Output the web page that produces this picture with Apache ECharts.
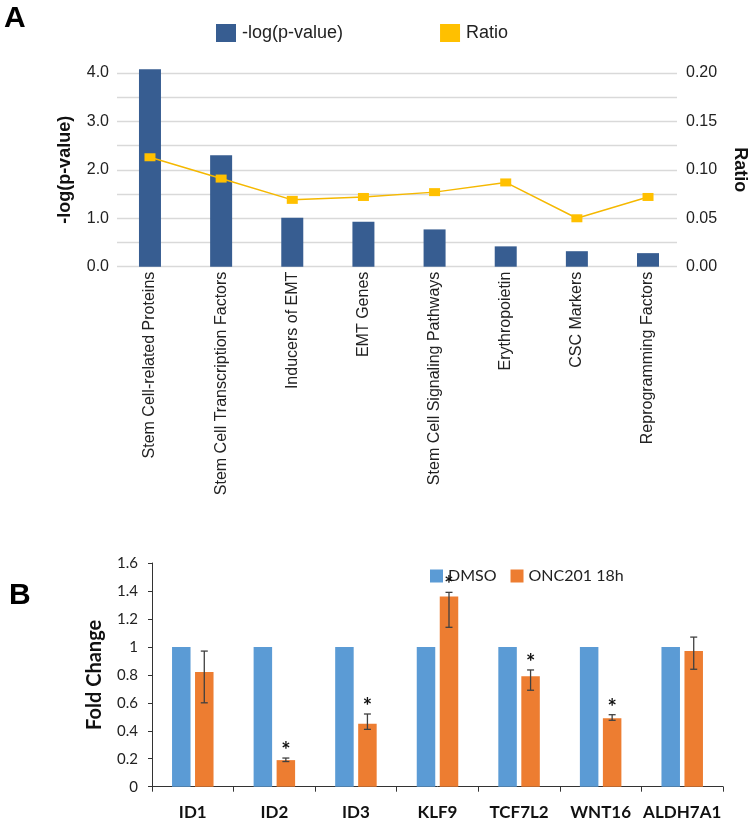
<!DOCTYPE html>
<html>
<head>
<meta charset="utf-8">
<script src="https://cdn.jsdelivr.net/npm/echarts/dist/echarts.min.js"></script>
<style>
  html, body { margin: 0; padding: 0; background: #ffffff; }
  #chart { width: 750px; height: 822px; }
</style>
</head>
<body>
<div id="chart"></div>
<script>
// ---------- Panel A data ----------
const pathwayCategories = [
  'Stem Cell-related Proteins',
  'Stem Cell Transcription Factors',
  'Inducers of EMT',
  'EMT Genes',
  'Stem Cell Signaling Pathways',
  'Erythropoietin',
  'CSC Markers',
  'Reprogramming Factors'
];
const negLogP = [4.08, 2.30, 1.01, 0.93, 0.77, 0.42, 0.32, 0.28];
const ratioValues = [0.113, 0.091, 0.069, 0.072, 0.077, 0.087, 0.050, 0.072];

// ---------- Panel B data ----------
const geneCategories = ['ID1', 'ID2', 'ID3', 'KLF9', 'TCF7L2', 'WNT16', 'ALDH7A1'];
const dmsoValues = [1, 1, 1, 1, 1, 1, 1];
const oncValues = [0.82, 0.19, 0.45, 1.36, 0.79, 0.49, 0.97];
const oncErrLow = [0.60, 0.18, 0.41, 1.14, 0.69, 0.475, 0.84];
const oncErrHigh = [0.97, 0.205, 0.52, 1.39, 0.835, 0.515, 1.07];
const significant = [false, true, true, true, true, true, false];

const chart = echarts.init(document.getElementById('chart'), null, { renderer: 'canvas' });

const fontA = 'Liberation Sans, Arial, sans-serif';
const fontB = 'Lato, Open Sans, sans-serif';
const barWidthB = 18.5;
const barGapPx = 4.5;

const errData = geneCategories.map((g, i) => [i, oncErrLow[i], oncErrHigh[i], significant[i] ? 1 : 0]);

const option = {
  backgroundColor: '#ffffff',
  animation: false,
  graphic: [
    { type: 'text', left: 4, top: 4, style: { text: 'A', font: 'bold 30px ' + fontA, fill: '#000' } },
    { type: 'text', left: 9, top: 581, style: { text: 'B', font: 'bold 30px ' + fontA, fill: '#000' } }
  ],
  legend: [
    {
      data: ['-log(p-value)', 'Ratio'],
      left: 211, top: 19,
      icon: 'rect',
      itemWidth: 20, itemHeight: 18, itemGap: 97,
      textStyle: { fontFamily: fontA, fontSize: 18, color: '#222', padding: [0, 0, 0, 1] }
    },
    {
      data: ['DMSO', 'ONC201 18h'],
      left: 425, top: 563,
      icon: 'rect',
      itemWidth: 13, itemHeight: 13, itemGap: 14,
      textStyle: { fontFamily: fontB, fontSize: 16, color: '#222' }
    }
  ],
  grid: [
    { left: 117, right: 73, top: 73, bottom: 555.3, containLabel: false, outerBoundsMode: 'none' },      // A gridlines + axis labels
    { left: 114.4, right: 66.4, top: 73, bottom: 555.3, containLabel: false, outerBoundsMode: 'none' },  // A marks
    { left: 152, right: 27, top: 563, bottom: 35.3, containLabel: false, outerBoundsMode: 'none' }       // B
  ],
  xAxis: [
    { gridIndex: 0, type: 'category', data: pathwayCategories, show: false },
    {
      gridIndex: 1, type: 'category', data: pathwayCategories,
      axisLine: { show: false }, axisTick: { show: false },
      axisLabel: { rotate: 90, interval: 0, margin: 5, fontFamily: fontA, fontSize: 16, color: '#222' }
    },
    {
      gridIndex: 2, type: 'category', data: geneCategories,
      axisLine: { lineStyle: { color: '#333', width: 1 } },
      axisTick: { show: true, length: 5, lineStyle: { color: '#333' } },
      axisLabel: { interval: 0, margin: 17, fontFamily: fontB, fontWeight: 'bold', fontSize: 17, color: '#111' }
    }
  ],
  yAxis: [
    {
      gridIndex: 0, type: 'value', min: 0, max: 4, interval: 0.5, position: 'left',
      name: '-log(p-value)', nameLocation: 'middle', nameGap: 43, nameRotate: 90,
      nameTextStyle: { fontFamily: fontA, fontWeight: 'bold', fontSize: 18, color: '#111' },
      axisLine: { show: false }, axisTick: { show: false },
      splitLine: { lineStyle: { color: '#d9d9d9', width: 1.3 } },
      axisLabel: {
        margin: 8, fontFamily: fontA, fontSize: 16, color: '#222',
        formatter: v => (Math.abs(v - Math.round(v)) < 1e-9 ? v.toFixed(1) : '')
      }
    },
    {
      gridIndex: 0, type: 'value', min: 0, max: 0.2, interval: 0.025, position: 'right',
      name: 'Ratio', nameLocation: 'middle', nameGap: 54, nameRotate: -90,
      nameTextStyle: { fontFamily: fontA, fontWeight: 'bold', fontSize: 18, color: '#111' },
      axisLine: { show: false }, axisTick: { show: false }, splitLine: { show: false },
      axisLabel: {
        margin: 9, fontFamily: fontA, fontSize: 16, color: '#222',
        formatter: v => (Math.abs(v / 0.05 - Math.round(v / 0.05)) < 1e-6 ? v.toFixed(2) : '')
      }
    },
    { gridIndex: 1, type: 'value', min: 0, max: 4, show: false, splitLine: { show: false } },
    { gridIndex: 1, type: 'value', min: 0, max: 0.2, show: false, splitLine: { show: false } },
    {
      gridIndex: 2, type: 'value', min: 0, max: 1.6, interval: 0.2,
      name: 'Fold Change', nameLocation: 'middle', nameGap: 47, nameRotate: 90,
      nameTextStyle: { fontFamily: fontB, fontWeight: 'bold', fontSize: 20, color: '#111' },
      axisLine: { show: true, lineStyle: { color: '#333', width: 1 } },
      axisTick: { show: true, length: 4, lineStyle: { color: '#333' } },
      splitLine: { show: false },
      axisLabel: { margin: 14, fontFamily: fontB, fontSize: 15, color: '#222' }
    }
  ],
  series: [
    {
      name: '-log(p-value)', type: 'bar', xAxisIndex: 1, yAxisIndex: 2,
      data: negLogP, barWidth: 22, clip: false,
      itemStyle: { color: '#375D91' }
    },
    {
      name: 'Ratio', type: 'line', xAxisIndex: 1, yAxisIndex: 3,
      data: ratioValues,
      symbol: 'rect', symbolSize: [11, 8],
      lineStyle: { color: '#F5B800', width: 1.5 },
      itemStyle: { color: '#FFC000' }
    },
    {
      name: 'DMSO', type: 'bar', xAxisIndex: 2, yAxisIndex: 4,
      data: dmsoValues, barWidth: barWidthB, barGap: (barGapPx / barWidthB * 100).toFixed(1) + '%',
      itemStyle: { color: '#5B9BD5' }
    },
    {
      name: 'ONC201 18h', type: 'bar', xAxisIndex: 2, yAxisIndex: 4,
      data: oncValues, barWidth: barWidthB, barGap: (barGapPx / barWidthB * 100).toFixed(1) + '%',
      itemStyle: { color: '#ED7D31' }
    },
    {
      name: 'err', type: 'custom', xAxisIndex: 2, yAxisIndex: 4,
      data: errData, z: 10,
      renderItem: function (params, api) {
        const idx = api.value(0);
        const lo = api.coord([idx, api.value(1)]);
        const hi = api.coord([idx, api.value(2)]);
        const x = lo[0] + (barWidthB + barGapPx) / 2;
        const cap = 3.5;
        const style = { stroke: '#404040', lineWidth: 1.3 };
        const children = [
          { type: 'line', shape: { x1: x, y1: lo[1], x2: x, y2: hi[1] }, style },
          { type: 'line', shape: { x1: x - cap, y1: lo[1], x2: x + cap, y2: lo[1] }, style },
          { type: 'line', shape: { x1: x - cap, y1: hi[1], x2: x + cap, y2: hi[1] }, style }
        ];
        if (api.value(3) === 1) {
          children.push({
            type: 'text',
            style: {
              x: x, y: hi[1] + 4, text: '*',
              textAlign: 'center', textVerticalAlign: 'bottom',
              font: 'bold 22px ' + fontB, fill: '#111'
            }
          });
        }
        return { type: 'group', children };
      }
    }
  ]
};

chart.setOption(option);
</script>
</body>
</html>
